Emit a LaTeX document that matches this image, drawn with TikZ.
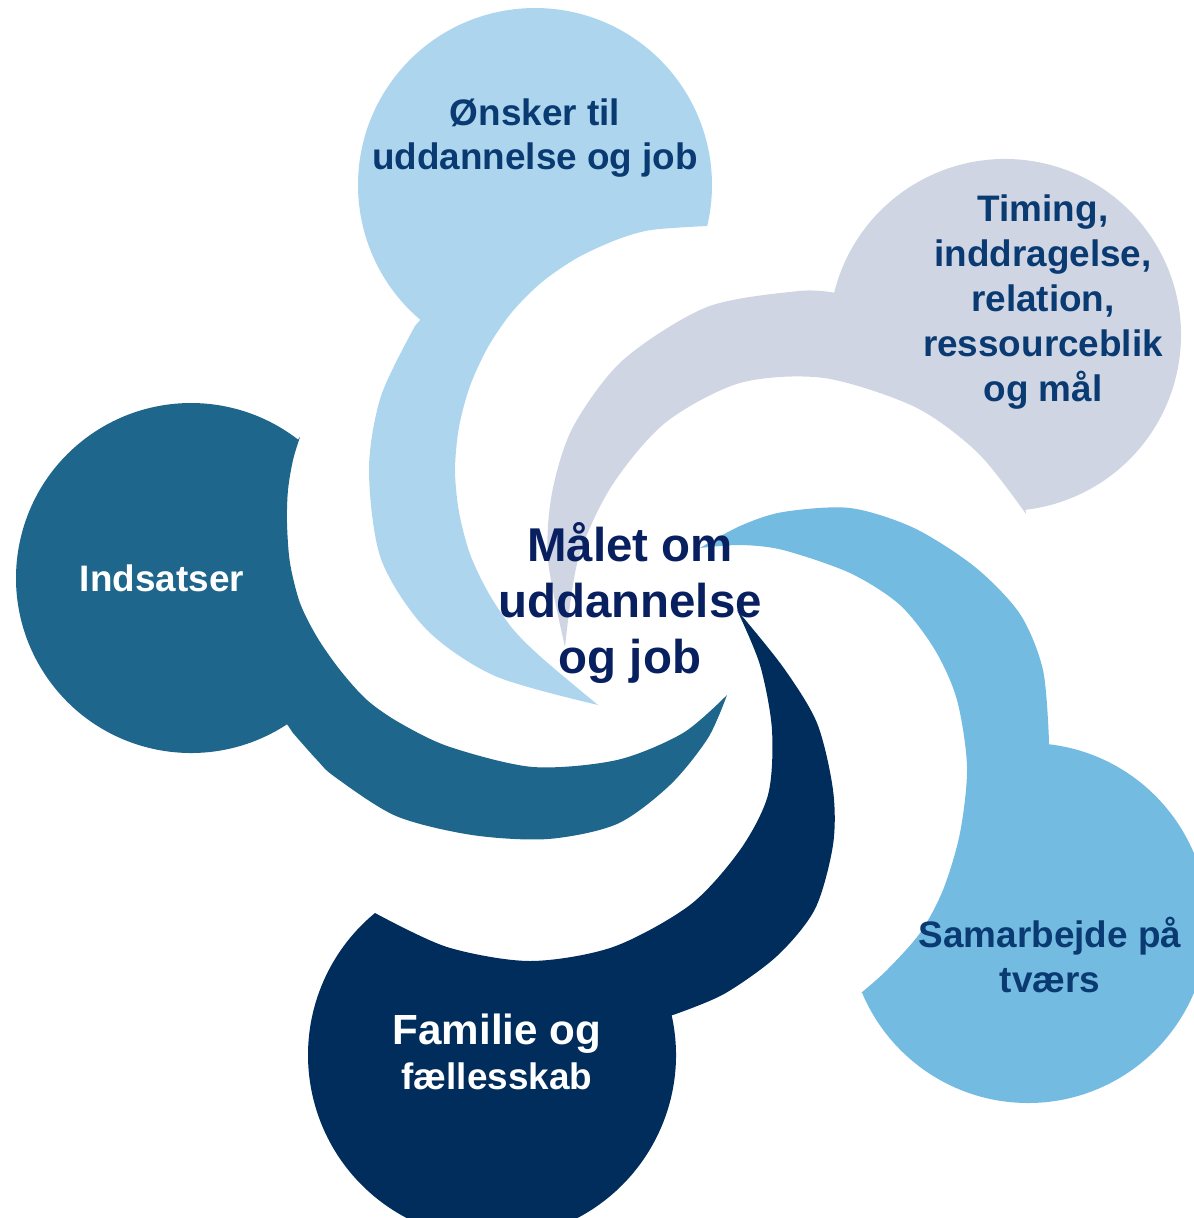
\documentclass[tikz,border=0pt]{standalone}
\usepackage{fontspec}
\setmainfont{Liberation Sans}
\usepackage{tikz}

\definecolor{paleblue}{RGB}{173,214,238}
\definecolor{greyblue}{RGB}{207,213,227}
\definecolor{skyblue}{RGB}{116,187,226}
\definecolor{navyblue}{RGB}{1,45,92}
\definecolor{tealblue}{RGB}{31,102,140}
\definecolor{labelblue}{RGB}{10,58,114}
\definecolor{goalblue}{RGB}{8,32,96}

\begin{document}
\begin{tikzpicture}[x=0.02cm,y=-0.02cm,
  label node/.style={align=center,font=\bfseries\fontsize{21}{25.5}\selectfont,text=labelblue},
  white node/.style={label node,text=white},
  goal node/.style={align=center,font=\bfseries\fontsize{27}{31.7}\selectfont,text=goalblue}]

  \useasboundingbox (0,0) rectangle (1194,1218);
  \clip (0,0) rectangle (1194,1218);

  % Oensker
  \fill[paleblue] (535,185) ++(130.4:177) arc[start angle=130.4,end angle=373.5,radius=177]
    -- plot[smooth] coordinates {(707,226) (651,230) (616,240) (577,258) (542,282) (512,312) (488,347) (470,386) (459,427) (455,470) (459,512) (470,554) (488,592) (512,628) (542,658) (598,705)}
    -- plot[smooth] coordinates {(598,705) (495,676) (426,629) (381,559) (369,470) (381,396) (415,326)} -- cycle;

  % Timing
  \fill[greyblue] (1005,335) ++(194:176) arc[start angle=194,end angle=443.3,radius=176]
    -- plot[smooth] coordinates {(1026,514) (978,453) (915,407) (824,378) (740,383) (665,423) (611,487) (578,560) (565,647)}
    -- plot[smooth] coordinates {(565,647) (548,560) (552,493) (573,427) (623,360) (707,307) (799,291) (836,293)} -- cycle;

  % Samarbejde
  \fill[skyblue] (1028,923) ++(276.6:180) arc[start angle=276.6,end angle=517.3,radius=180]
    -- plot[smooth] coordinates {(861,993) (887,970) (920,933) (943,890) (960,833) (967,767) (957,700) (935,650) (900,605) (850,573) (783,550) (740,545) (700,548)}
    -- plot[smooth] coordinates {(700,548) (740,526) (783,512) (850,508) (914,528) (975,567) (1020,614) (1043,670) (1049,741)} -- cycle;

  % Familie
  \fill[navyblue] (492,1055) ++(347.5:184) arc[start angle=347.5,end angle=590.5,radius=184]
    -- plot[smooth] coordinates {(375,913) (447,947) (530,961) (613,947) (690,905) (740,850) (768,795) (772,730) (760,665) (737,610)}
    -- plot[smooth] coordinates {(737,610) (783,667) (817,723) (833,790) (833,845) (815,909) (777,956) (724,994) (673,1015)} -- cycle;

  % Indsatser
  \fill[tealblue] (191,578) ++(56.7:175) arc[start angle=56.7,end angle=307.7,radius=175]
    -- plot[smooth] coordinates {(300,437) (293,460) (288,490) (287,523) (290,563) (300,603) (317,637) (340,670) (367,700) (400,723) (450,747) (533,767) (617,760) (683,733) (727,695)}
    -- plot[smooth] coordinates {(727,695) (708,738) (670,785) (617,824) (548,839) (472,835) (396,816) (335,777) (317,760) (293,733)} -- cycle;

  \node[label node] (wish) at (535,138) {Ønsker til\\uddannelse og job};
  \node[label node] (timing) at (1043,302) {Timing,\\inddragelse,\\relation,\\ressourceblik\\og mål};
  \node[label node] (work) at (1050,955) {Samarbejde på\\tværs};
  \node[white node] (effort) at (162,578) {Indsatser};
  \node[white node] (family) at (497,1052) {{\fontsize{24}{29}\selectfont Familie og}\\fællesskab};
  \node[goal node] (goal) at (630,603) {Målet om\\uddannelse\\og job};

\end{tikzpicture}
\end{document}
